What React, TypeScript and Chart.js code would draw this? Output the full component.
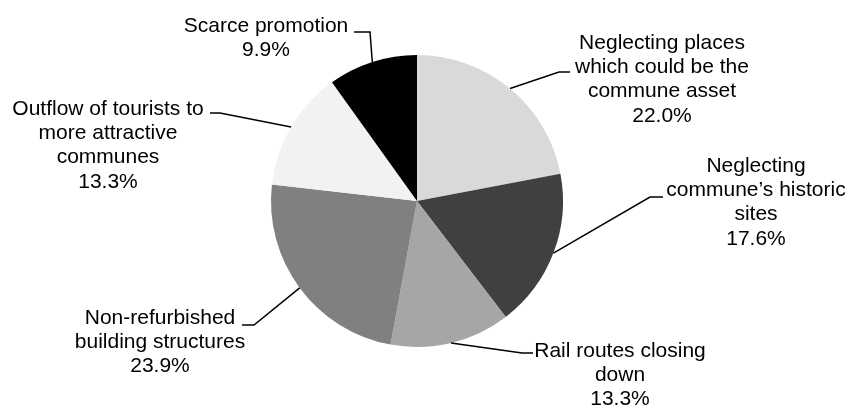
import React, { useEffect, useRef } from "react";
import { Chart, registerables } from "chart.js";

Chart.register(...registerables);

const categories: string[][] = [
  ["Neglecting places", "which could be the", "commune asset"],
  ["Neglecting", "commune\u2019s historic", "sites"],
  ["Rail routes closing", "down"],
  ["Non-refurbished", "building structures"],
  ["Outflow of tourists to", "more attractive", "communes"],
  ["Scarce promotion"],
];
const values: number[] = [22.0, 17.6, 13.3, 23.9, 13.3, 9.9];
const colors: string[] = ["#d9d9d9", "#404040", "#a6a6a6", "#808080", "#f2f2f2", "#000000"];

// label layout, offsets relative to pie centre (px)
const labelLayout = [
  { elbow: [142, -129], end: [153, -129], tx: 245, ty: -152 },
  { elbow: [233, -4], end: [246, -4], tx: 339, ty: -29 },
  { elbow: [105, 152], end: [116, 152], tx: 203, ty: 156 },
  { elbow: [-163, 124], end: [-175, 124], tx: -257, ty: 123 },
  { elbow: [-197, -88], end: [-207, -88], tx: -309, ty: -86 },
  { elbow: [-47, -169], end: [-63, -169], tx: -151, ty: -169 },
];

const FONT = "21px 'Liberation Sans', Arial, sans-serif";
const LINE_H = 24.2;

const labelPlugin = {
  id: "leaderLabels",
  afterDraw(chart: any) {
    const ctx = chart.ctx as CanvasRenderingContext2D;
    const meta = chart.getDatasetMeta(0);
    ctx.save();
    meta.data.forEach((arc: any, i: number) => {
      const p = arc.getProps(["x", "y", "startAngle", "endAngle", "outerRadius"], true);
      const mid = (p.startAngle + p.endAngle) / 2;
      const sx = p.x + Math.cos(mid) * p.outerRadius;
      const sy = p.y + Math.sin(mid) * p.outerRadius;
      const L = labelLayout[i];
      ctx.strokeStyle = "#000";
      ctx.lineWidth = 1.5;
      ctx.beginPath();
      ctx.moveTo(sx, sy);
      ctx.lineTo(p.x + L.elbow[0], p.y + L.elbow[1]);
      ctx.lineTo(p.x + L.end[0], p.y + L.end[1]);
      ctx.stroke();
      const lines = [...categories[i], values[i].toFixed(1) + "%"];
      ctx.fillStyle = "#000";
      ctx.font = FONT;
      ctx.textAlign = "center";
      ctx.textBaseline = "alphabetic";
      lines.forEach((t, k) => {
        ctx.fillText(t, p.x + L.tx, p.y + L.ty + k * LINE_H);
      });
    });
    ctx.restore();
  },
};

export default function App() {
  const ref = useRef<HTMLCanvasElement | null>(null);
  useEffect(() => {
    document.body.style.margin = "0";
    const chart = new Chart(ref.current as HTMLCanvasElement, {
      type: "pie",
      data: {
        labels: categories.map((c) => c.join(" ")),
        datasets: [
          {
            data: values,
            backgroundColor: colors,
            borderWidth: 0,
            hoverOffset: 0,
          },
        ],
      },
      options: {
        responsive: false,
        animation: false,
        devicePixelRatio: 1,
        layout: { padding: { top: 55, bottom: 59, left: 271, right: 286 } },
        plugins: {
          legend: { display: false },
          tooltip: { enabled: false },
        },
        events: [],
      },
      plugins: [labelPlugin],
    });
    return () => chart.destroy();
  }, []);
  return (
    <div style={{ width: 849, height: 406, background: "#fff" }}>
      <canvas ref={ref} width={849} height={406} />
    </div>
  );
}
